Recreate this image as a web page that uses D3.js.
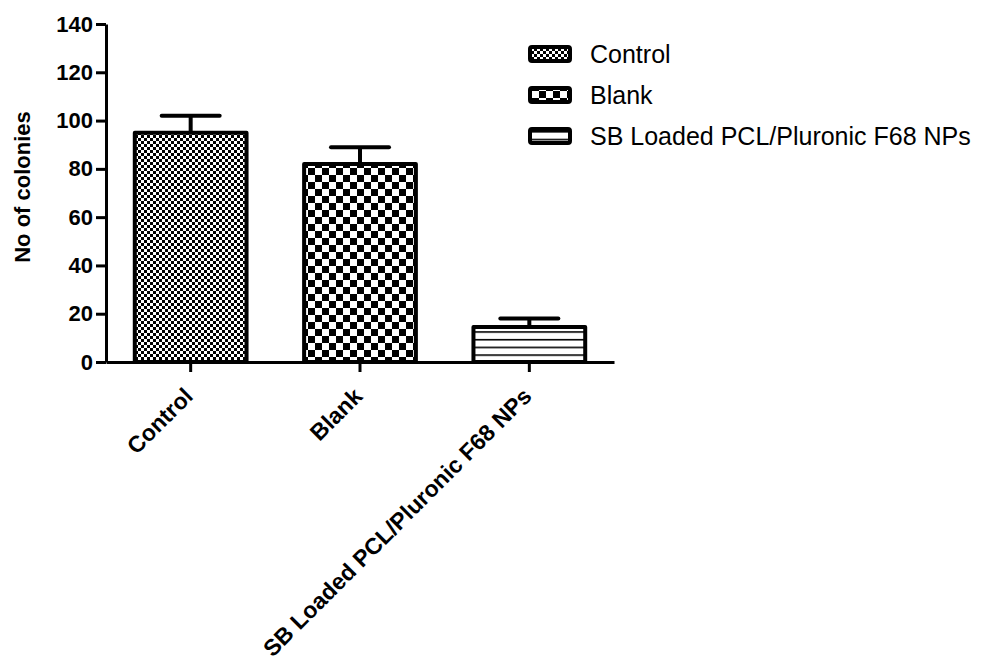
<!DOCTYPE html>
<html>
<head>
<meta charset="utf-8">
<script src="https://cdn.jsdelivr.net/npm/d3@7"></script>
<style>
  body { margin: 0; background: #fff; }
  text { font-family: Arial, "Liberation Sans", sans-serif; }
</style>
</head>
<body>
<script>
// values
const categories = ["Control", "Blank", "SB Loaded PCL/Pluronic F68 NPs"];
const means = [95, 82, 14.5];
const errors = [7, 7, 3.5];
const yTicks = [0, 20, 40, 60, 80, 100, 120, 140];
const patternIds = ["pat-fine", "pat-check", "pat-lines"];

makeChart();

function makeChart() {
    const width = 984, height = 660;

    const svg = d3.select("body").append("svg")
        .attr("width", width)
        .attr("height", height);

    const defs = svg.append("defs");

    // fine checkerboard (Control)
    const p1 = defs.append("pattern").attr("id", "pat-fine")
        .attr("patternUnits", "userSpaceOnUse").attr("width", 6).attr("height", 6);
    p1.append("rect").attr("width", 6).attr("height", 6).attr("fill", "#fff");
    p1.append("rect").attr("width", 3).attr("height", 3).attr("fill", "#000");
    p1.append("rect").attr("x", 3).attr("y", 3).attr("width", 3).attr("height", 3).attr("fill", "#000");

    // coarse checkerboard (Blank)
    const p2 = defs.append("pattern").attr("id", "pat-check")
        .attr("patternUnits", "userSpaceOnUse").attr("width", 14).attr("height", 14);
    p2.append("rect").attr("width", 14).attr("height", 14).attr("fill", "#fff");
    p2.append("rect").attr("width", 7).attr("height", 7).attr("fill", "#000");
    p2.append("rect").attr("x", 7).attr("y", 7).attr("width", 7).attr("height", 7).attr("fill", "#000");

    // horizontal lines (SB loaded)
    const p3 = defs.append("pattern").attr("id", "pat-lines")
        .attr("patternUnits", "userSpaceOnUse").attr("width", 8).attr("height", 7.7)
        .attr("y", 362);
    p3.append("rect").attr("width", 8).attr("height", 7.7).attr("fill", "#fff");
    p3.append("rect").attr("y", 0).attr("width", 8).attr("height", 1.6).attr("fill", "#000");

    const x = d3.scaleBand()
        .domain(categories)
        .range([106, 614])
        .paddingInner(0.34)
        .paddingOuter(0.17);

    const y = d3.scaleLinear()
        .domain([0, 140])
        .range([362, 24]);

    // error bars (behind the bars)
    const eb = svg.append("g").attr("stroke", "#000").attr("stroke-width", 4).attr("fill", "none");
    categories.forEach((c, i) => {
        const cx = x(c) + x.bandwidth() / 2;
        eb.append("line")
            .attr("x1", cx).attr("x2", cx)
            .attr("y1", y(means[i])).attr("y2", y(means[i] + errors[i]));
        eb.append("line")
            .attr("x1", cx - 29).attr("x2", cx + 29)
            .attr("y1", y(means[i] + errors[i])).attr("y2", y(means[i] + errors[i]))
            .attr("stroke-linecap", "round");
    });

    // bars
    svg.append("g")
        .selectAll("rect")
        .data(categories)
        .join("rect")
        .attr("x", d => x(d))
        .attr("y", (d, i) => y(means[i]))
        .attr("width", x.bandwidth())
        .attr("height", (d, i) => y(0) - y(means[i]))
        .attr("fill", (d, i) => `url(#${patternIds[i]})`)
        .attr("stroke", "#000")
        .attr("stroke-width", 4)
        .attr("stroke-linejoin", "round");

    // y axis
    const yAxis = svg.append("g")
        .attr("transform", "translate(106,0)")
        .call(d3.axisLeft(y).tickValues(yTicks).tickSize(10).tickPadding(3).tickSizeOuter(0));
    yAxis.select(".domain").attr("stroke-width", 3);
    yAxis.selectAll(".tick line").attr("stroke-width", 3);
    yAxis.selectAll(".tick text")
        .attr("font-size", 22)
        .attr("font-weight", "bold")
        .attr("font-family", "Arial, 'Liberation Sans', sans-serif")
        .attr("fill", "#000");

    // x axis
    const xAxis = svg.append("g")
        .attr("transform", "translate(0,362)")
        .call(d3.axisBottom(x).tickSize(10).tickSizeOuter(0));
    xAxis.select(".domain").attr("stroke-width", 3);
    xAxis.selectAll(".tick line").attr("stroke-width", 3);
    xAxis.selectAll(".tick text")
        .attr("font-size", 23)
        .attr("font-weight", "bold")
        .attr("font-family", "Arial, 'Liberation Sans', sans-serif")
        .attr("fill", "#000")
        .attr("text-anchor", "end")
        .attr("dy", "0.35em")
        .attr("transform", "translate(-2,30) rotate(-45)")
        .attr("y", 0)
        .attr("x", 0);

    // y title
    svg.append("text")
        .attr("transform", "translate(30,187) rotate(-90)")
        .attr("text-anchor", "middle")
        .attr("font-size", 22)
        .attr("font-weight", "bold")
        .text("No of colonies");

    // legend
    const legend = svg.append("g");
    categories.forEach((c, i) => {
        const ly = 54 + i * 41;
        legend.append("rect")
            .attr("x", 530).attr("y", ly - 7)
            .attr("width", 40).attr("height", 14)
            .attr("rx", 2)
            .attr("fill", `url(#${patternIds[i]})`)
            .attr("stroke", "#000").attr("stroke-width", 4);
        legend.append("text")
            .attr("x", 590).attr("y", ly)
            .attr("dy", "0.36em")
            .attr("font-size", 25)
            .text(c);
    });

    return svg.node();
}
</script>
</body>
</html>
